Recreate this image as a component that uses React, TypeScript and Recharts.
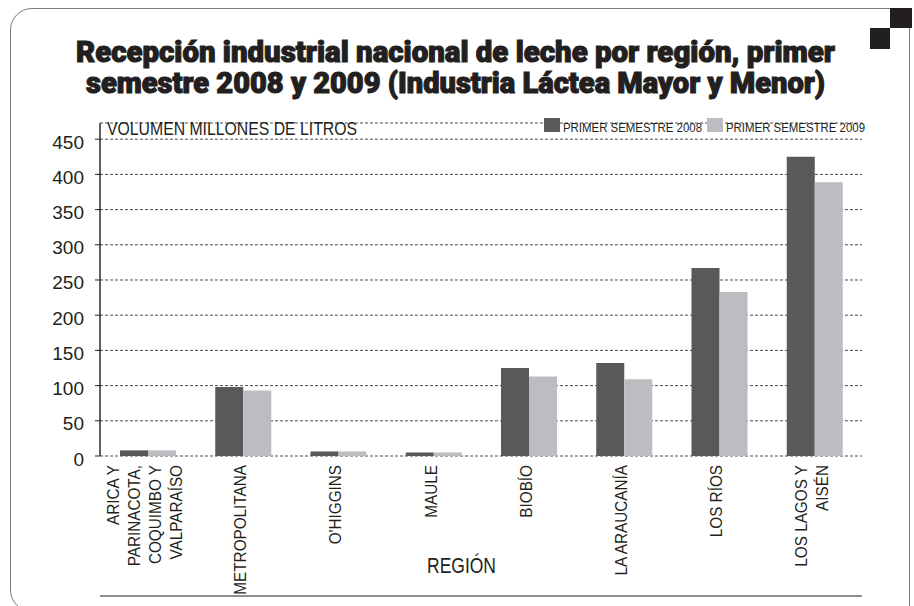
import { Bar, BarChart, CartesianGrid, XAxis, YAxis } from "recharts";

const REGIONS = [
  "ARICA Y\nPARINACOTA,\nCOQUIMBO Y\nVALPARAÍSO",
  "METROPOLITANA",
  "O'HIGGINS",
  "MAULE",
  "BIOBÍO",
  "LA ARAUCANÍA",
  "LOS RÍOS",
  "LOS LAGOS Y\nAISÉN",
];
const SEM_2008 = [8, 98, 6.5, 5, 125, 132, 267, 425];
const SEM_2009 = [8, 93, 6.5, 5, 113, 109, 233, 389];
const Y_TICKS = [0, 50, 100, 150, 200, 250, 300, 350, 400, 450];
const EDGE_TICKS = [0, 1, 2, 3, 4, 5, 6, 7, 8];

const SERIES = [
  { key: "s2008", name: "PRIMER SEMESTRE 2008", color: "#58595b" },
  { key: "s2009", name: "PRIMER SEMESTRE 2009", color: "#bcbdc0" },
];

const TITLE = [
  "Recepción industrial nacional de leche por región, primer",
  "semestre 2008 y 2009 (Industria Láctea Mayor y Menor)",
];

const INK = "#231f20";
const FONT = "'Liberation Sans', Arial, sans-serif";

const data = REGIONS.map((region, i) => ({
  region,
  s2008: SEM_2008[i],
  s2009: SEM_2009[i],
}));

function RegionTick({ x, y, payload }: any) {
  const lines = String(payload.value).split("\n");
  const lh = 21;
  const start = (-(lines.length - 1) * lh) / 2;
  return (
    <g transform={`translate(${x - 3},${y}) rotate(-90) scale(0.9,1)`}>
      <text textAnchor="end" fontSize={17} fill={INK} fontFamily={FONT}>
        {lines.map((l, i) => (
          <tspan key={i} x={0} y={start + i * lh} dominantBaseline="central">
            {l}
          </tspan>
        ))}
      </text>
    </g>
  );
}

function ValueTick({ x, y, payload }: any) {
  return (
    <text
      x={x}
      y={y + 3}
      textAnchor="end"
      dominantBaseline="central"
      fontSize={19}
      fill={INK}
      fontFamily={FONT}
    >
      {payload.value}
    </text>
  );
}

export default function App() {
  return (
    <div
      style={{
        position: "absolute",
        left: 0,
        top: 0,
        width: 914,
        height: 606,
        overflow: "hidden",
        background: "#fff",
        fontFamily: FONT,
      }}
    >
      <div
        style={{
          position: "absolute",
          left: 10,
          top: 8,
          width: 900,
          height: 604,
          boxSizing: "border-box",
          border: "1.5px solid #7a7a7a",
          borderTopLeftRadius: 22,
          borderBottomLeftRadius: 22,
        }}
      />
      <div style={{ position: "absolute", left: 890, top: 8, width: 22, height: 20, background: INK }} />
      <div style={{ position: "absolute", left: 870, top: 28, width: 20, height: 21, background: INK }} />

      <div style={{ position: "absolute", left: 0, top: 0 }}>
        <BarChart
          width={914}
          height={606}
          data={data}
          margin={{ top: 123, right: 52, left: 40, bottom: 9 }}
          barGap={0}
          barCategoryGap="21%"
        >
          <CartesianGrid vertical={false} stroke="#4d4d4d" strokeDasharray="3 2" />
          <XAxis
            xAxisId="edges"
            type="number"
            domain={[0, 8]}
            ticks={EDGE_TICKS}
            allowDataOverflow
            height={1}
            tick={false}
            tickSize={5}
            axisLine={{ stroke: INK, strokeWidth: 1.2 }}
            tickLine={{ stroke: INK }}
          />
          <XAxis
            dataKey="region"
            interval={0}
            height={140}
            axisLine={false}
            tickLine={false}
            tickSize={5}
            tickMargin={4}
            tick={<RegionTick />}
          />
          <YAxis
            width={60}
            domain={[0, 473]}
            ticks={Y_TICKS}
            allowDataOverflow
            axisLine={{ stroke: INK, strokeWidth: 1.4 }}
            tickLine={{ stroke: INK }}
            tickSize={5}
            tickMargin={11}
            tick={<ValueTick />}
          />
          {SERIES.map((s) => (
            <Bar key={s.key} dataKey={s.key} name={s.name} fill={s.color} isAnimationActive={false} />
          ))}
        </BarChart>
      </div>

      <svg
        width={914}
        height={606}
        style={{ position: "absolute", left: 0, top: 0, pointerEvents: "none" }}
      >
        {TITLE.map((line, i) => (
          <text
            key={i}
            x={i === 0 ? 76 : 86}
            y={i === 0 ? 62 : 93}
            fontSize={29}
            fontWeight={900}
            fontFamily="Roboto, 'Liberation Sans', sans-serif"
            fill={INK}
            stroke={INK}
            strokeWidth={1.1}
            textLength={i === 0 ? 759 : 739}
            lengthAdjust="spacingAndGlyphs"
          >
            {line}
          </text>
        ))}
        <text
          x={107}
          y={135}
          fontSize={18.5}
          fill={INK}
          textLength={250}
          lengthAdjust="spacingAndGlyphs"
        >
          VOLUMEN MILLONES DE LITROS
        </text>
        <text
          x={427}
          y={573}
          fontSize={22}
          fill={INK}
          textLength={69}
          lengthAdjust="spacingAndGlyphs"
        >
          REGIÓN
        </text>
        {SERIES.map((s, i) => {
          const x0 = 544 + i * 163;
          return (
            <g key={s.key}>
              <rect x={x0} y={118} width={16} height={14} fill={s.color} />
              <text
                x={x0 + 19}
                y={132}
                fontSize={13}
                fill={INK}
                textLength={139}
                lengthAdjust="spacingAndGlyphs"
              >
                {s.name}
              </text>
            </g>
          );
        })}
      </svg>
    </div>
  );
}
